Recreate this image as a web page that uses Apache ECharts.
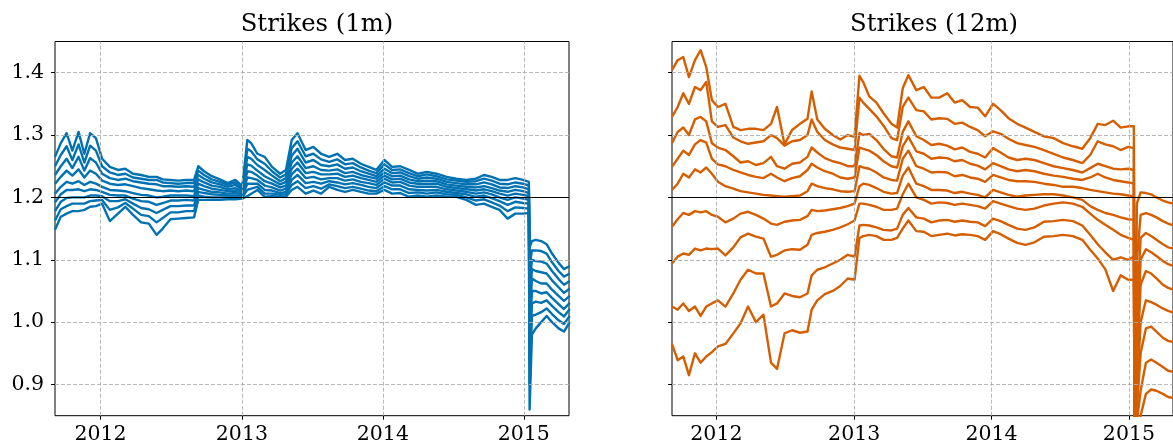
<!DOCTYPE html>
<html><head><meta charset="utf-8">
<script src="https://cdn.jsdelivr.net/npm/echarts@6/dist/echarts.min.js"></script>
<style>html,body{margin:0;padding:0;background:#fff}#c{width:1173px;height:445px}</style>
</head><body><div id="c"></div><script>
// ---- data ----
const dates = ['2011-09-05','2011-09-20','2011-10-05','2011-10-20','2011-11-05','2011-11-20','2011-12-05','2011-12-20','2012-01-05','2012-01-25',
'2012-02-15','2012-03-05','2012-03-25','2012-04-15','2012-05-05','2012-05-25','2012-06-10','2012-06-30','2012-07-20','2012-08-10',
'2012-08-30','2012-09-10','2012-09-25','2012-10-15','2012-11-05','2012-11-25','2012-12-15','2013-01-02','2013-01-15','2013-01-25',
'2013-02-10','2013-03-01','2013-03-20','2013-04-10','2013-04-25','2013-05-10','2013-05-25','2013-06-15','2013-07-05','2013-07-25',
'2013-08-15','2013-09-05','2013-09-25','2013-10-15','2013-11-05','2013-11-25','2013-12-15','2014-01-05','2014-01-25','2014-02-15',
'2014-03-10','2014-04-01','2014-04-25','2014-05-20','2014-06-15','2014-07-10','2014-08-05','2014-08-30','2014-09-20','2014-10-10',
'2014-10-30','2014-11-20','2014-12-10','2014-12-30','2015-01-14','2015-01-16','2015-01-22','2015-02-01','2015-02-15','2015-03-01',
'2015-03-15','2015-04-01','2015-04-15','2015-04-30'];

const titles = ['Strikes (1m)', 'Strikes (12m)'];
const yTicks = [0.9, 1.0, 1.1, 1.2, 1.3, 1.4];
const xTickYears = [2012, 2013, 2014, 2015];
const refLevel = 1.2;
const xRange = ['2011-09-05', '2015-04-28'];
const yRange = [0.85, 1.45];

// Strikes (1m), top to bottom
const b1 = [1.265,1.287,1.303,1.275,1.305,1.270,1.303,1.295,1.262,1.249,1.244,1.246,1.238,1.236,1.233,1.233,1.229,1.228,1.227,1.228,1.228,1.250,1.242,1.234,1.229,1.223,1.228,1.218,1.292,1.287,1.270,1.265,1.249,1.238,1.244,1.292,1.303,1.276,1.281,1.270,1.265,1.270,1.260,1.262,1.254,1.249,1.244,1.260,1.249,1.250,1.244,1.238,1.241,1.238,1.233,1.230,1.228,1.230,1.236,1.233,1.228,1.228,1.231,1.228,1.225,1.120,1.130,1.132,1.130,1.125,1.110,1.095,1.085,1.090];
const b2 = [1.250,1.268,1.282,1.260,1.285,1.256,1.283,1.275,1.250,1.240,1.236,1.238,1.232,1.230,1.228,1.228,1.224,1.223,1.222,1.223,1.223,1.243,1.236,1.229,1.225,1.220,1.224,1.215,1.278,1.274,1.261,1.254,1.242,1.232,1.237,1.279,1.290,1.266,1.270,1.261,1.257,1.261,1.253,1.255,1.248,1.243,1.239,1.253,1.244,1.245,1.239,1.234,1.237,1.234,1.229,1.227,1.225,1.226,1.230,1.227,1.222,1.221,1.224,1.222,1.219,1.090,1.115,1.115,1.114,1.110,1.096,1.082,1.073,1.078];
const b3 = [1.236,1.250,1.262,1.247,1.265,1.243,1.263,1.256,1.238,1.231,1.228,1.230,1.226,1.224,1.222,1.221,1.218,1.218,1.217,1.218,1.217,1.236,1.230,1.224,1.221,1.217,1.220,1.213,1.265,1.262,1.252,1.244,1.235,1.226,1.231,1.267,1.278,1.256,1.260,1.252,1.250,1.253,1.246,1.248,1.242,1.238,1.234,1.246,1.239,1.240,1.234,1.230,1.232,1.230,1.225,1.223,1.221,1.221,1.224,1.221,1.216,1.215,1.218,1.216,1.213,1.060,1.100,1.098,1.097,1.094,1.082,1.069,1.060,1.066];
const b4 = [1.222,1.233,1.243,1.235,1.245,1.232,1.243,1.238,1.227,1.222,1.220,1.221,1.218,1.215,1.213,1.211,1.210,1.211,1.210,1.211,1.210,1.229,1.224,1.219,1.217,1.213,1.215,1.210,1.253,1.251,1.243,1.234,1.228,1.221,1.225,1.256,1.266,1.247,1.250,1.244,1.243,1.245,1.239,1.241,1.236,1.233,1.230,1.240,1.234,1.235,1.229,1.226,1.227,1.226,1.221,1.219,1.217,1.216,1.218,1.215,1.211,1.209,1.212,1.210,1.207,1.030,1.085,1.082,1.080,1.078,1.067,1.056,1.047,1.054];
const b5 = [1.206,1.217,1.225,1.222,1.226,1.220,1.225,1.222,1.217,1.212,1.211,1.210,1.207,1.204,1.203,1.200,1.201,1.203,1.203,1.203,1.202,1.222,1.218,1.214,1.212,1.210,1.211,1.207,1.242,1.241,1.235,1.226,1.222,1.216,1.219,1.246,1.256,1.239,1.241,1.237,1.237,1.238,1.233,1.235,1.231,1.228,1.225,1.235,1.229,1.230,1.224,1.222,1.222,1.222,1.217,1.215,1.213,1.211,1.213,1.210,1.206,1.203,1.206,1.204,1.202,1.000,1.070,1.066,1.062,1.062,1.052,1.042,1.034,1.042];
const b6 = [1.192,1.205,1.212,1.212,1.213,1.210,1.213,1.212,1.209,1.204,1.203,1.203,1.198,1.194,1.193,1.188,1.191,1.195,1.195,1.196,1.195,1.215,1.212,1.209,1.208,1.206,1.207,1.205,1.232,1.231,1.228,1.219,1.216,1.211,1.214,1.237,1.246,1.231,1.233,1.229,1.231,1.231,1.227,1.229,1.225,1.223,1.220,1.230,1.224,1.225,1.219,1.217,1.217,1.217,1.213,1.211,1.209,1.206,1.208,1.205,1.200,1.196,1.200,1.198,1.196,0.970,1.050,1.050,1.046,1.048,1.039,1.029,1.021,1.031];
const b7 = [1.178,1.193,1.199,1.200,1.200,1.200,1.203,1.203,1.202,1.194,1.194,1.197,1.190,1.183,1.181,1.175,1.180,1.186,1.186,1.187,1.187,1.209,1.207,1.205,1.204,1.203,1.203,1.203,1.222,1.222,1.222,1.212,1.211,1.207,1.209,1.228,1.236,1.223,1.225,1.222,1.226,1.224,1.221,1.223,1.220,1.217,1.215,1.224,1.219,1.219,1.213,1.212,1.211,1.212,1.209,1.207,1.205,1.201,1.203,1.199,1.194,1.188,1.193,1.191,1.190,0.940,1.030,1.033,1.031,1.035,1.026,1.016,1.009,1.021];
const b8 = [1.163,1.181,1.186,1.190,1.190,1.190,1.194,1.195,1.196,1.180,1.184,1.191,1.182,1.172,1.170,1.160,1.167,1.176,1.176,1.178,1.178,1.203,1.201,1.200,1.200,1.200,1.200,1.200,1.212,1.214,1.217,1.206,1.206,1.204,1.205,1.220,1.226,1.215,1.218,1.214,1.221,1.218,1.215,1.217,1.214,1.211,1.210,1.218,1.213,1.213,1.207,1.208,1.206,1.208,1.205,1.204,1.200,1.195,1.197,1.192,1.187,1.178,1.184,1.183,1.182,0.900,1.010,1.012,1.016,1.022,1.013,1.003,0.997,1.010];
const b9 = [1.148,1.169,1.174,1.178,1.178,1.180,1.185,1.186,1.190,1.162,1.174,1.185,1.172,1.160,1.158,1.140,1.150,1.165,1.166,1.167,1.168,1.196,1.196,1.196,1.196,1.197,1.197,1.198,1.202,1.206,1.212,1.201,1.202,1.201,1.201,1.212,1.217,1.206,1.211,1.206,1.217,1.212,1.209,1.212,1.209,1.206,1.206,1.212,1.206,1.207,1.201,1.203,1.201,1.203,1.201,1.201,1.196,1.188,1.190,1.185,1.180,1.166,1.174,1.174,1.175,0.860,0.980,0.990,1.000,1.010,1.000,0.990,0.985,1.000];

// Strikes (12m), top to bottom
const o1 = [1.404,1.420,1.425,1.393,1.420,1.436,1.409,1.356,1.345,1.350,1.313,1.308,1.310,1.310,1.308,1.318,1.345,1.285,1.308,1.318,1.326,1.370,1.325,1.310,1.300,1.293,1.300,1.297,1.395,1.385,1.362,1.352,1.335,1.318,1.312,1.375,1.396,1.372,1.377,1.360,1.360,1.367,1.352,1.356,1.345,1.344,1.330,1.350,1.340,1.327,1.318,1.312,1.305,1.298,1.295,1.287,1.282,1.278,1.295,1.318,1.316,1.323,1.312,1.314,1.314,0.800,1.190,1.208,1.207,1.205,1.200,1.195,1.192,1.190];
const o2 = [1.329,1.345,1.367,1.350,1.377,1.372,1.385,1.322,1.313,1.316,1.296,1.290,1.286,1.288,1.290,1.300,1.295,1.283,1.290,1.292,1.300,1.325,1.305,1.292,1.285,1.280,1.278,1.276,1.360,1.352,1.342,1.330,1.315,1.295,1.292,1.345,1.360,1.340,1.338,1.325,1.327,1.326,1.318,1.320,1.313,1.308,1.298,1.306,1.302,1.294,1.287,1.284,1.281,1.276,1.270,1.264,1.260,1.255,1.268,1.290,1.285,1.282,1.276,1.281,1.279,0.800,1.100,1.172,1.175,1.172,1.168,1.162,1.158,1.155];
const o3 = [1.287,1.305,1.312,1.300,1.325,1.329,1.322,1.287,1.280,1.276,1.266,1.256,1.258,1.252,1.255,1.265,1.250,1.246,1.254,1.256,1.265,1.280,1.272,1.263,1.258,1.255,1.250,1.250,1.303,1.300,1.302,1.292,1.278,1.266,1.264,1.305,1.322,1.298,1.292,1.284,1.286,1.283,1.277,1.280,1.273,1.270,1.264,1.279,1.272,1.264,1.260,1.262,1.260,1.255,1.250,1.247,1.244,1.240,1.247,1.254,1.250,1.246,1.245,1.246,1.244,0.800,1.020,1.135,1.143,1.138,1.132,1.125,1.120,1.118];
const o4 = [1.249,1.262,1.275,1.268,1.285,1.292,1.288,1.262,1.253,1.250,1.244,1.240,1.236,1.233,1.231,1.238,1.232,1.226,1.231,1.234,1.244,1.254,1.248,1.242,1.238,1.232,1.230,1.232,1.280,1.278,1.275,1.268,1.258,1.250,1.248,1.282,1.297,1.274,1.270,1.262,1.264,1.263,1.258,1.260,1.254,1.251,1.245,1.255,1.250,1.245,1.242,1.244,1.242,1.238,1.235,1.233,1.230,1.228,1.232,1.238,1.232,1.228,1.226,1.224,1.222,0.800,0.960,1.100,1.117,1.112,1.106,1.098,1.093,1.090];
const o5 = [1.212,1.222,1.238,1.232,1.245,1.240,1.248,1.238,1.225,1.218,1.214,1.210,1.208,1.206,1.204,1.203,1.202,1.201,1.202,1.203,1.210,1.222,1.218,1.215,1.213,1.210,1.209,1.210,1.250,1.248,1.246,1.240,1.232,1.228,1.227,1.262,1.275,1.250,1.246,1.240,1.241,1.240,1.234,1.236,1.232,1.230,1.225,1.236,1.232,1.228,1.226,1.226,1.225,1.222,1.220,1.217,1.217,1.215,1.212,1.210,1.208,1.206,1.205,1.203,1.201,0.800,0.920,1.060,1.082,1.078,1.070,1.060,1.055,1.052];
const o6 = [1.153,1.165,1.175,1.172,1.178,1.176,1.178,1.172,1.169,1.160,1.166,1.174,1.177,1.172,1.166,1.158,1.156,1.161,1.163,1.164,1.170,1.180,1.178,1.179,1.181,1.183,1.186,1.190,1.218,1.222,1.220,1.215,1.209,1.206,1.207,1.235,1.248,1.222,1.218,1.212,1.212,1.211,1.207,1.209,1.206,1.204,1.200,1.212,1.208,1.204,1.201,1.203,1.204,1.205,1.205,1.203,1.200,1.196,1.186,1.180,1.175,1.172,1.168,1.165,1.164,0.800,0.880,1.000,1.035,1.032,1.028,1.022,1.018,1.015];
const o7 = [1.094,1.105,1.110,1.108,1.118,1.115,1.118,1.117,1.118,1.107,1.120,1.136,1.142,1.137,1.134,1.105,1.108,1.115,1.117,1.116,1.124,1.140,1.143,1.145,1.148,1.152,1.157,1.163,1.190,1.190,1.188,1.185,1.180,1.180,1.182,1.205,1.222,1.200,1.196,1.190,1.192,1.191,1.188,1.190,1.188,1.186,1.182,1.194,1.190,1.186,1.182,1.180,1.182,1.187,1.190,1.192,1.190,1.185,1.174,1.164,1.156,1.148,1.140,1.135,1.132,0.800,0.860,0.950,0.990,0.993,0.985,0.975,0.970,0.968];
const o8 = [1.025,1.020,1.030,1.018,1.025,1.010,1.025,1.030,1.035,1.025,1.046,1.068,1.084,1.078,1.078,1.025,1.030,1.046,1.042,1.040,1.046,1.075,1.084,1.088,1.094,1.100,1.108,1.105,1.155,1.156,1.155,1.152,1.148,1.147,1.150,1.172,1.183,1.168,1.166,1.160,1.163,1.164,1.161,1.163,1.161,1.160,1.154,1.166,1.162,1.156,1.150,1.148,1.152,1.161,1.162,1.164,1.162,1.155,1.140,1.125,1.112,1.100,1.104,1.100,1.105,0.800,0.840,0.890,0.935,0.940,0.935,0.928,0.922,0.920];
const o9 = [0.965,0.939,0.945,0.915,0.950,0.935,0.945,0.952,0.961,0.965,0.982,0.998,1.025,1.000,1.012,0.935,0.925,0.982,0.987,0.983,0.985,1.020,1.035,1.045,1.050,1.058,1.070,1.068,1.135,1.138,1.140,1.138,1.132,1.132,1.135,1.150,1.163,1.146,1.145,1.138,1.140,1.142,1.139,1.141,1.140,1.138,1.132,1.146,1.141,1.134,1.127,1.124,1.128,1.137,1.138,1.140,1.138,1.132,1.116,1.102,1.085,1.050,1.075,1.068,1.068,0.800,0.820,0.850,0.885,0.892,0.890,0.885,0.880,0.878];

const strikes1m = [b1, b2, b3, b4, b5, b6, b7, b8, b9];
const strikes12m = [o1, o2, o3, o4, o5, o6, o7, o8, o9];

// ---- chart ----
const FONT = 'DejaVu Serif';
const toTs = s => { const p = s.split('-').map(Number); return Date.UTC(p[0], p[1] - 1, p[2]); };
const ts = dates.map(toTs);
const xTicks = xTickYears.map(y => Date.UTC(y, 0, 1));
const colors = ['#0072b2', '#d55e00'];
const grids = [
  { left: 55, top: 41.5, width: 514, height: 374.2 },
  { left: 672, top: 41.5, width: 514, height: 374.2 }
];

const series = [];
[strikes1m, strikes12m].forEach((group, g) => {
  series.push({
    type: 'line', xAxisIndex: g, yAxisIndex: g, data: [], silent: true, z: 1,
    markLine: {
      silent: true, symbol: 'none', animation: false, label: { show: false },
      lineStyle: { color: '#b0b0b0', width: 0.9, type: [4, 2] },
      data: yTicks.map(v => ({ yAxis: v })).concat(xTicks.map(v => ({ xAxis: v })))
    }
  });
  group.forEach(arr => {
    series.push({
      type: 'line', xAxisIndex: g, yAxisIndex: g, showSymbol: false, symbol: 'none',
      clip: true, silent: true, z: 2,
      lineStyle: { color: colors[g], width: 2.4, join: 'round' },
      data: arr.map((v, i) => [ts[i], v])
    });
  });
  series.push({
    type: 'line', xAxisIndex: g, yAxisIndex: g, data: [], silent: true, z: 5,
    markLine: {
      silent: true, symbol: 'none', animation: false, label: { show: false },
      lineStyle: { color: '#000', width: 1, type: 'solid' },
      data: [{ yAxis: refLevel }]
    }
  });
});

const option = {
  animation: false,
  backgroundColor: '#fff',
  title: titles.map((t, g) => ({
    text: t, left: grids[g].left + grids[g].width / 2, top: 8, textAlign: 'center',
    textStyle: { fontFamily: FONT, fontSize: 24.3, fontWeight: 'normal', color: '#000' }
  })),
  grid: grids.map(r => Object.assign({ show: true, borderColor: '#000', borderWidth: 1, backgroundColor: 'transparent', containLabel: false }, r)),
  xAxis: grids.map((r, g) => ({
    type: 'value', gridIndex: g, min: toTs(xRange[0]), max: toTs(xRange[1]),
    axisLine: { show: false },
    axisTick: { show: true, customValues: xTicks, length: 4, lineStyle: { color: '#000', width: 1 } },
    axisLabel: { customValues: xTicks, formatter: v => String(new Date(v).getUTCFullYear()), fontFamily: FONT, fontSize: 20.5, color: '#000', margin: 8, hideOverlap: false },
    splitLine: { show: false }
  })),
  yAxis: grids.map((r, g) => ({
    type: 'value', gridIndex: g, min: yRange[0], max: yRange[1],
    axisLine: { show: false },
    axisTick: { show: true, customValues: yTicks, length: 4, lineStyle: { color: '#000', width: 1 } },
    axisLabel: { show: g === 0, customValues: yTicks, formatter: v => v.toFixed(1), fontFamily: FONT, fontSize: 20.5, color: '#000', margin: 11 },
    splitLine: { show: false }
  })),
  series: series
};

const chart = echarts.init(document.getElementById('c'), null, { renderer: 'canvas' });
chart.setOption(option);
</script></body></html>
